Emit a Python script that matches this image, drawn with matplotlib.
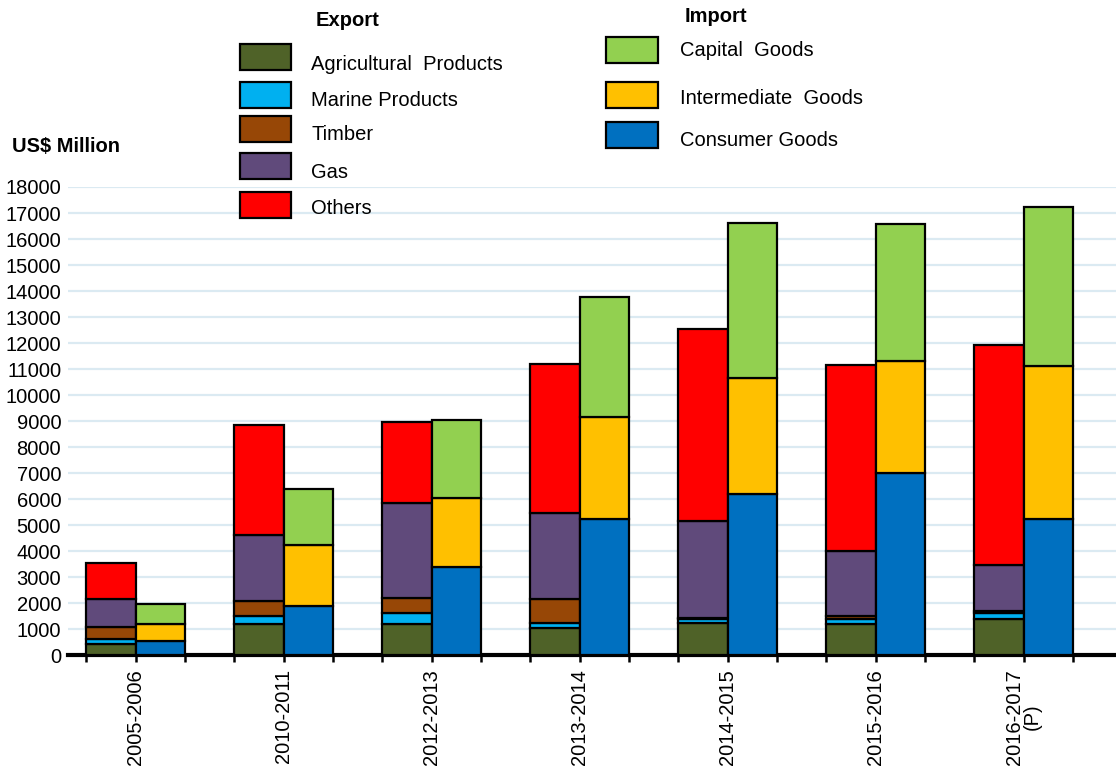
import numpy as np
import matplotlib
matplotlib.use('Agg')
import matplotlib.pyplot as plt
from matplotlib.patches import Rectangle

plt.rcParams['font.family'] = ['Liberation Sans', 'DejaVu Sans']

# 年份
years = ['2005-2006', '2010-2011', '2012-2013', '2013-2014',
         '2014-2015', '2015-2016', '2016-2017\n(P)']

# 出口 (US$ Million)
agri = [410, 1190, 1190, 1050, 1220, 1190, 1370]
marine = [190, 310, 410, 190, 150, 190, 230]
timber = [465, 590, 580, 910, 60, 130, 100]
gas = [1100, 2525, 3650, 3300, 3720, 2500, 1760]
others = [1375, 4245, 3120, 5740, 7380, 7130, 8460]

# 进口 (US$ Million)
consumer = [525, 1900, 3400, 5230, 6180, 7010, 5220]
intermediate = [655, 2350, 2630, 3910, 4460, 4310, 5900]
capital = [795, 2150, 3020, 4640, 5980, 5260, 6100]

export_names = ['Agricultural  Products', 'Marine Products', 'Timber', 'Gas', 'Others']
import_names = ['Capital  Goods', 'Intermediate  Goods', 'Consumer Goods']
export_colors = ['#4f6228', '#00b0f0', '#974706', '#604a7b', '#ff0000']
import_colors = ['#92d050', '#ffc000', '#0070c0']

fs = 14.5

fig = plt.figure(figsize=(11.16, 7.74), dpi=100)
ax = fig.add_axes([0.061, 0.1537, 0.939, 0.6047])

x = np.arange(len(years)) * 3
w = 1.0

# 出口堆叠柱
bottom = np.zeros(len(years))
for vals, c in zip([agri, marine, timber, gas, others], export_colors):
    ax.bar(x, vals, w, bottom=bottom, color=c, edgecolor='black', linewidth=1.6, zorder=3)
    bottom += np.array(vals)

# 进口堆叠柱
bottom = np.zeros(len(years))
for vals, c in zip([consumer, intermediate, capital], import_colors[::-1]):
    ax.bar(x + 1, vals, w, bottom=bottom, color=c, edgecolor='black', linewidth=1.6, zorder=3)
    bottom += np.array(vals)

ax.set_ylim(0, 18000)
ax.set_xlim(-0.87, x[-1] + 2.37)
ax.set_yticks(np.arange(0, 18001, 1000))
ax.yaxis.grid(True, color='#dbeaf2', linewidth=1.6, zorder=0)
ax.tick_params(axis='y', length=0, labelsize=fs, pad=5)

# x 轴刻度：组中间放标签，柱边缘放小刻度
ax.set_xticks(x + 0.5)
ax.set_xticklabels(years, rotation=90, fontsize=fs, va='top', ha='center', linespacing=0.9)
ax.set_xticks(np.concatenate([x - 0.5, x + 1.5]), minor=True)
ax.tick_params(axis='x', which='both', direction='out', length=5, width=1.8, pad=5)

for s in ['top', 'right', 'left']:
    ax.spines[s].set_visible(False)
ax.spines['bottom'].set_linewidth(3)

fig.text(12 / 1116, 1 - 146 / 774, 'US$ Million', fontsize=fs, fontweight='bold', va='center')

# 图例（手动放置）
def px(xp, yp):
    return xp / 1116, 1 - yp / 774

fig.text(*px(316, 20), 'Export', fontsize=fs, fontweight='bold', va='center')
exp_patch_y = [57, 95, 129, 166, 205]
exp_text_y = [65, 101, 135, 172, 208]
for name, c, py, ty in zip(export_names, export_colors, exp_patch_y, exp_text_y):
    x0, y0 = px(240, py + 13)
    fig.add_artist(Rectangle((x0, y0), 51 / 1116, 26 / 774, transform=fig.transFigure,
                             facecolor=c, edgecolor='black', linewidth=1.6))
    fig.text(*px(311, ty), name, fontsize=fs, va='center')

fig.text(*px(685, 17), 'Import', fontsize=fs, fontweight='bold', va='center')
imp_patch_y = [50, 95, 135]
imp_text_y = [51, 99, 141]
for name, c, py, ty in zip(import_names, import_colors, imp_patch_y, imp_text_y):
    x0, y0 = px(606, py + 13)
    fig.add_artist(Rectangle((x0, y0), 52 / 1116, 26 / 774, transform=fig.transFigure,
                             facecolor=c, edgecolor='black', linewidth=1.6))
    fig.text(*px(680, ty), name, fontsize=fs, va='center')

plt.savefig('out.png', dpi=100)
